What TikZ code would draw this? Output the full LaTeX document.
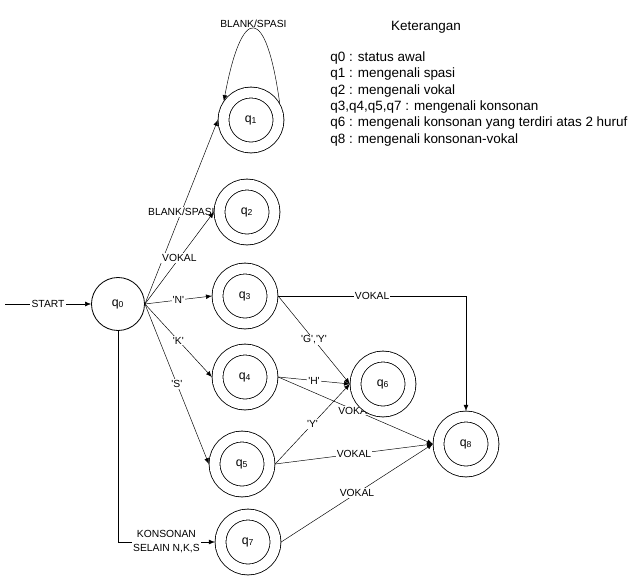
\documentclass[tikz,border=0pt]{standalone}
\usepackage{fontspec}
\setmainfont{Liberation Sans}
\usetikzlibrary{arrows.meta,backgrounds}

\tikzset{
  dstate/.style={circle, draw, double, double distance=0.3cm, minimum size=1.65cm,
    inner sep=0pt, outer sep=0.17cm, fill=white, font=\fontsize{10.5}{12}\selectfont},
  initstate/.style={circle, draw, minimum size=1.59cm, inner sep=0pt, fill=white,
    font=\fontsize{10.5}{12}\selectfont},
  lbl/.style={fill=white, inner sep=1pt, font=\fontsize{8.8}{11.9}\selectfont},
  legend/.style={inner sep=0pt, font=\fontsize{11.5}{13.8}\selectfont},
  trans/.style={-{Latex[length=5pt,width=4pt]}},
}
\newcommand{\qs}[1]{q\textsubscript{#1}}
\newcommand{\sq}{\textquotesingle}

\begin{document}
\begin{tikzpicture}[x=0.03cm, y=-0.03cm, line width=0.7pt]
  \useasboundingbox (0,0) rectangle (634,581);

  % states
  \node[initstate] (q0) at (118,304) {\qs{0}};
  \node[dstate] (q1) at (251,120) {\qs{1}};
  \node[dstate] (q2) at (247,212) {\qs{2}};
  \node[dstate] (q3) at (245,296) {\qs{3}};
  \node[dstate] (q4) at (245,377) {\qs{4}};
  \node[dstate] (q5) at (242,464) {\qs{5}};
  \node[dstate] (q6) at (383,384) {\qs{6}};
  \node[dstate] (q7) at (248,542) {\qs{7}};
  \node[dstate] (q8) at (466,444) {\qs{8}};
  \coordinate (start) at (5,304);

  % transitions
  \begin{scope}[on background layer]
    \draw[trans] (start) -- node[lbl] {START} (q0.west);
    \draw[trans] (q1.30) .. controls (266,4) and (242,4) .. node[lbl, above, fill=none] {BLANK/SPASI} (q1.145);
    \draw[trans] (q0.east) -- node[lbl] {BLANK/SPASI} (q1.west);
    \draw[trans] (q0.east) -- node[lbl] {VOKAL} (q2.west);
    \draw[trans] (q0.east) -- node[lbl] {\sq N\sq} (q3.west);
    \draw[trans] (q0.east) -- node[lbl] {\sq K\sq} (q4.west);
    \draw[trans] (q0.east) -- node[lbl] {\sq S\sq} (q5.west);
    \draw[trans] (q0.south) |- node[lbl, pos=0.75, align=center] {KONSONAN\\SELAIN N,K,S} (q7.west);
    \draw[trans] (q3.east) -| node[lbl, pos=0.25] {VOKAL} (q8.north);
    \draw[trans] (q3.east) -- node[lbl] {\sq G\sq,\sq Y\sq} (q6.west);
    \draw[trans] (q4.east) -- node[lbl] {\sq H\sq} (q6.west);
    \draw[trans] (q4.east) -- node[lbl] {VOKAL} (q8.west);
    \draw[trans] (q5.east) -- node[lbl] {\sq Y\sq} (q6.west);
    \draw[trans] (q5.east) -- node[lbl] {VOKAL} (q8.west);
    \draw[trans] (q7.east) -- node[lbl] {VOKAL} (q8.west);
  \end{scope}

  % keterangan
  \node[legend] (ket) at (426,27) {Keterangan};
  \foreach \txt [count=\i from 0] in {q0 : status awal, q1 : mengenali spasi,
      q2 : mengenali vokal, {q3,q4,q5,q7 : mengenali konsonan},
      q6 : mengenali konsonan yang terdiri atas 2 huruf,
      q8 : mengenali konsonan-vokal}
    \node[legend, anchor=base west] (leg\i) at (330,{61.5+16.3*\i}) {\txt};
\end{tikzpicture}
\end{document}
